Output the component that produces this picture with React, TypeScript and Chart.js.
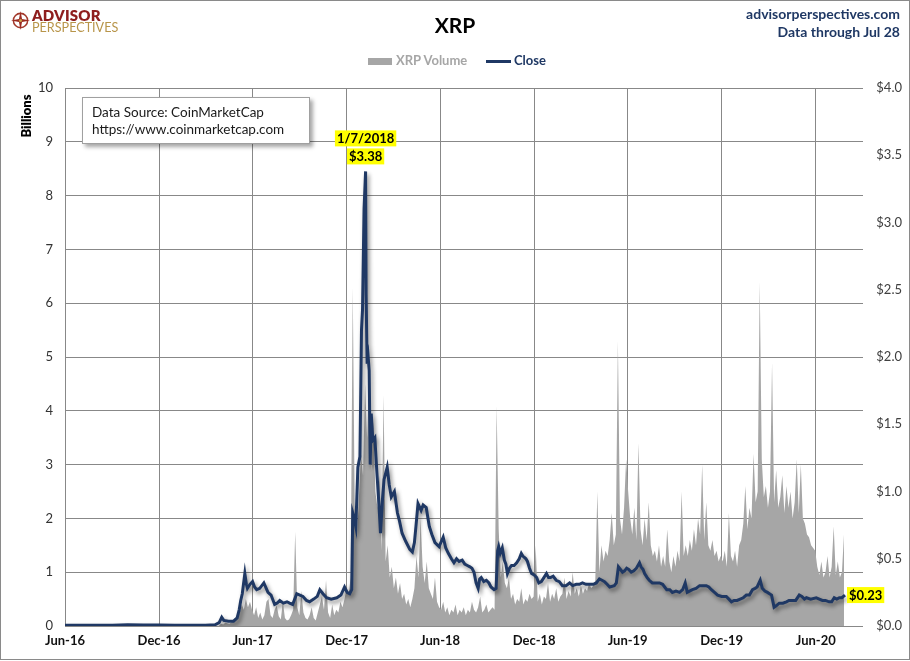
import React, { useEffect, useRef } from 'react';
import { Chart, registerables } from 'chart.js';

Chart.register(...registerables);

// ---------- axis ----------
const axisStartDate = '2016-06-01';
const axisEndDate = '2020-09-01';
const xTickDates = ['2016-06-01', '2016-12-01', '2017-06-01', '2017-12-01', '2018-06-01', '2018-12-01', '2019-06-01', '2019-12-01', '2020-06-01'];
const xTickLabels = ['Jun-16', 'Dec-16', 'Jun-17', 'Dec-17', 'Jun-18', 'Dec-18', 'Jun-19', 'Dec-19', 'Jun-20'];

// ---------- Close (USD, right axis) ----------
const closeDates = [
  '2016-06-01', '2016-07-01', '2016-08-01', '2016-09-01', '2016-10-01', '2016-11-01', '2016-12-01', '2017-01-01', '2017-02-01', '2017-03-01',
  '2017-03-20', '2017-03-28', '2017-04-02', '2017-04-06', '2017-04-15', '2017-04-25', '2017-05-02', '2017-05-06', '2017-05-09', '2017-05-12',
  '2017-05-14', '2017-05-17', '2017-05-20', '2017-05-22', '2017-05-27', '2017-06-01', '2017-06-05', '2017-06-09', '2017-06-15', '2017-06-23',
  '2017-07-01', '2017-07-07', '2017-07-14', '2017-07-19', '2017-07-24', '2017-07-31', '2017-08-07', '2017-08-12', '2017-08-18', '2017-08-26',
  '2017-09-01', '2017-09-07', '2017-09-14', '2017-09-20', '2017-09-28', '2017-10-05', '2017-10-10', '2017-10-16', '2017-10-23', '2017-11-01',
  '2017-11-12', '2017-11-20', '2017-11-27', '2017-12-02', '2017-12-07', '2017-12-11', '2017-12-13', '2017-12-16', '2017-12-19', '2017-12-23',
  '2017-12-27', '2017-12-30', '2018-01-01', '2018-01-04', '2018-01-07', '2018-01-08', '2018-01-10', '2018-01-12', '2018-01-14', '2018-01-16',
  '2018-01-18', '2018-01-21', '2018-01-25', '2018-01-29', '2018-02-02', '2018-02-05', '2018-02-09', '2018-02-12', '2018-02-18', '2018-02-22',
  '2018-02-26', '2018-03-04', '2018-03-10', '2018-03-14', '2018-03-19', '2018-03-26', '2018-04-03', '2018-04-08', '2018-04-12', '2018-04-15',
  '2018-04-19', '2018-04-25', '2018-04-29', '2018-05-05', '2018-05-11', '2018-05-16', '2018-05-22', '2018-05-30', '2018-06-07', '2018-06-12',
  '2018-06-17', '2018-06-23', '2018-06-28', '2018-07-03', '2018-07-08', '2018-07-14', '2018-07-19', '2018-07-24', '2018-07-29', '2018-08-02',
  '2018-08-06', '2018-08-10', '2018-08-14', '2018-08-17', '2018-08-20', '2018-08-25', '2018-08-30', '2018-09-04', '2018-09-08', '2018-09-14',
  '2018-09-18', '2018-09-21', '2018-09-23', '2018-09-26', '2018-09-30', '2018-10-04', '2018-10-07', '2018-10-10', '2018-10-14', '2018-10-18',
  '2018-10-23', '2018-10-28', '2018-11-02', '2018-11-06', '2018-11-09', '2018-11-12', '2018-11-15', '2018-11-18', '2018-11-22', '2018-11-26',
  '2018-12-01', '2018-12-06', '2018-12-10', '2018-12-15', '2018-12-20', '2018-12-25', '2018-12-29', '2019-01-02', '2019-01-07', '2019-01-13',
  '2019-01-19', '2019-01-25', '2019-02-01', '2019-02-08', '2019-02-14', '2019-02-21', '2019-02-27', '2019-03-05', '2019-03-12', '2019-03-19',
  '2019-03-26', '2019-04-01', '2019-04-07', '2019-04-12', '2019-04-17', '2019-04-22', '2019-04-27', '2019-05-06', '2019-05-10', '2019-05-14',
  '2019-05-18', '2019-05-22', '2019-05-26', '2019-05-30', '2019-06-03', '2019-06-08', '2019-06-13', '2019-06-18', '2019-06-24', '2019-06-27',
  '2019-07-01', '2019-07-04', '2019-07-09', '2019-07-13', '2019-07-19', '2019-07-25', '2019-08-02', '2019-08-08', '2019-08-16', '2019-08-22',
  '2019-08-27', '2019-09-03', '2019-09-10', '2019-09-16', '2019-09-21', '2019-09-25', '2019-10-05', '2019-10-12', '2019-10-19', '2019-10-26',
  '2019-11-01', '2019-11-06', '2019-11-11', '2019-11-17', '2019-11-23', '2019-12-01', '2019-12-10', '2019-12-15', '2019-12-20', '2019-12-25',
  '2019-12-31', '2020-01-06', '2020-01-12', '2020-01-18', '2020-01-24', '2020-01-30', '2020-02-04', '2020-02-08', '2020-02-14', '2020-02-18',
  '2020-02-23', '2020-02-28', '2020-03-03', '2020-03-07', '2020-03-12', '2020-03-16', '2020-03-22', '2020-03-29', '2020-04-05', '2020-04-10',
  '2020-04-16', '2020-04-23', '2020-04-30', '2020-05-05', '2020-05-10', '2020-05-14', '2020-05-22', '2020-06-02', '2020-06-08', '2020-06-14',
  '2020-06-20', '2020-06-27', '2020-07-02', '2020-07-07', '2020-07-12', '2020-07-17', '2020-07-22', '2020-07-25', '2020-07-28',
];
const closeValues = [
  0.006, 0.0065, 0.0062, 0.0064, 0.0095, 0.0078, 0.0067, 0.0064, 0.0062, 0.0064,
  0.009, 0.025, 0.065, 0.042, 0.035, 0.036, 0.06, 0.12, 0.19, 0.24,
  0.3, 0.39, 0.31, 0.28, 0.31, 0.33, 0.29, 0.27, 0.28, 0.32,
  0.25, 0.23, 0.16, 0.17, 0.19, 0.17, 0.18, 0.17, 0.16, 0.24,
  0.23, 0.22, 0.19, 0.18, 0.2, 0.22, 0.27, 0.24, 0.21, 0.2,
  0.21, 0.23, 0.29, 0.25, 0.24, 0.27, 0.84, 0.8, 0.74, 1.18,
  1.26, 2.2, 2.35, 3.1, 3.38, 2.46, 1.95, 2.0, 1.9, 1.2,
  1.58, 1.38, 1.4, 1.14, 0.9, 0.69, 0.95, 1.09, 1.18, 1.05,
  0.96, 1.0, 0.84, 0.78, 0.69, 0.63, 0.57, 0.55, 0.62, 0.74,
  0.91, 0.86, 0.9, 0.88, 0.74, 0.68, 0.62, 0.59, 0.66, 0.58,
  0.54, 0.5, 0.47, 0.5, 0.48, 0.49, 0.46, 0.45, 0.44, 0.43,
  0.4, 0.32, 0.28, 0.35, 0.36, 0.33, 0.34, 0.32, 0.29, 0.27,
  0.28, 0.56, 0.59, 0.54, 0.58, 0.49, 0.46, 0.39, 0.43, 0.45,
  0.45, 0.47, 0.5, 0.54, 0.52, 0.51, 0.5, 0.48, 0.43, 0.39,
  0.38, 0.36, 0.32, 0.33, 0.36, 0.39, 0.36, 0.36, 0.37, 0.34,
  0.33, 0.3, 0.3, 0.32, 0.3, 0.31, 0.31, 0.32, 0.31, 0.31,
  0.31, 0.32, 0.35, 0.34, 0.33, 0.31, 0.29, 0.3, 0.32, 0.44,
  0.42, 0.4, 0.41, 0.43, 0.42, 0.4, 0.41, 0.43, 0.47, 0.44,
  0.42, 0.39, 0.36, 0.34, 0.32, 0.32, 0.32, 0.31, 0.27, 0.27,
  0.25, 0.26, 0.25, 0.27, 0.32, 0.25, 0.27, 0.28, 0.3, 0.3,
  0.3, 0.29, 0.27, 0.25, 0.23, 0.22, 0.22, 0.2, 0.18, 0.19,
  0.19, 0.2, 0.21, 0.23, 0.23, 0.27, 0.28, 0.29, 0.34, 0.28,
  0.26, 0.25, 0.24, 0.23, 0.14, 0.15, 0.17, 0.17, 0.18, 0.19,
  0.19, 0.19, 0.23, 0.22, 0.2, 0.21, 0.2, 0.21, 0.2, 0.19,
  0.19, 0.18, 0.18, 0.21, 0.2, 0.21, 0.21, 0.22, 0.23,
];

// ---------- XRP Volume (billions, left axis), sampled every 4 days ----------
const volumeStartDate = '2017-03-28';
const volumeStepDays = 4;
const volumeValues = [
  // Mar-May 2017
  0.02, 0.04, 0.03, 0.06, 0.05, 0.04, 0.07, 0.08, 0.12, 0.15, 0.25, 0.4, 0.3, 0.5, 0.35, 0.45,
  // Jun-Nov 2017
  0.3, 0.2, 0.35, 0.15, 0.25, 0.12, 0.2, 0.45, 0.5, 0.2,
  0.15, 0.3, 0.38, 0.18, 0.12, 0.45, 0.15, 0.1, 0.12, 0.2,
  0.3, 1.75, 0.35, 0.2, 0.65, 0.25, 0.15, 0.12, 0.2, 0.35,
  0.15, 0.1, 0.25, 0.4, 0.55, 0.3, 0.85, 0.25, 0.15, 0.4,
  0.2, 0.3, 0.25, 0.45, 0.35, 0.5, 0.7,
  // Dec 2017-May 2018
  0.6, 0.9, 6.3, 2.0, 1.6, 2.4, 3.2, 2.8, 4.5, 3.5,
  4.8, 2.9, 3.8, 2.5, 2.2, 2.8, 1.4, 4.3, 1.2, 1.5,
  0.9, 1.1, 0.7, 0.9, 0.6, 0.8, 0.5, 0.6, 0.4, 0.5,
  0.35, 0.5, 0.7, 1.3, 0.9, 2.0, 1.1, 0.8, 1.2, 0.7,
  0.6, 0.5, 0.9, 0.45, 0.35,
  // Jun-Nov 2018
  0.3, 0.45, 0.25, 0.35, 0.2, 0.3, 0.25, 0.4, 0.2, 0.3,
  0.25, 0.35, 0.2, 0.3, 0.25, 0.45, 0.3, 0.25, 0.35, 0.55,
  0.25, 0.3, 0.4, 0.25, 0.3, 0.35, 0.3, 4.1, 1.8, 0.9,
  1.2, 0.8, 0.7, 0.9, 0.5, 0.6, 0.4, 0.5, 0.45, 0.7,
  0.4, 0.5, 0.45, 0.6, 0.5, 0.55,
  // Dec 2018-May 2019
  1.5, 0.45, 0.6, 0.4, 0.55, 0.5, 0.8, 0.45, 0.6, 0.5,
  0.7, 0.45, 0.55, 0.6, 0.9, 0.5, 0.65, 0.55, 1.0, 0.6,
  0.7, 0.55, 0.75, 0.6, 0.7, 0.65, 0.8, 0.7, 0.75, 0.85,
  2.5, 1.0, 1.5, 1.2, 1.4, 1.3, 1.6, 2.1, 1.5, 1.7,
  5.3, 2.0, 1.7, 2.2, 3.1,
  // Jun-Nov 2019
  2.5, 2.0, 1.7, 2.2, 1.6, 3.4, 1.8, 1.5, 2.0, 1.6,
  2.3, 1.5, 1.3, 1.4, 1.2, 1.5, 1.1, 1.3, 1.1, 1.8,
  1.2, 1.0, 1.3, 1.1, 1.4, 1.2, 2.5, 1.3, 1.5, 1.3,
  1.6, 1.4, 1.8, 1.5, 2.0, 1.7, 3.0, 1.6, 2.3, 1.5,
  1.4, 1.6, 1.3, 1.4, 1.2, 1.3,
  // Dec 2019-May 2020
  1.2, 1.4, 1.1, 2.1, 1.3, 1.2, 1.4, 1.1, 1.5, 1.6,
  1.9, 2.6, 1.8, 2.2, 2.0, 3.2, 2.3, 2.5, 6.4, 3.1,
  2.4, 2.6, 2.2, 2.5, 4.9, 2.3, 2.9, 2.2, 2.4, 2.8,
  2.1, 2.6, 2.2, 2.5, 2.0, 2.3, 3.1, 2.1, 3.0, 2.0,
  1.9, 1.7, 1.65, 1.5, 1.45, 1.4,
  // Jun-Jul 2020
  1.1, 0.95, 1.2, 0.9, 1.0, 1.3, 0.9, 1.1, 1.85, 0.95, 1.2, 0.9, 1.0, 1.7,
];

// ---------- annotations ----------
const peakDate = '2018-01-07';
const peakValue = 3.38;
const peakDateLabel = '1/7/2018';
const peakPriceLabel = '$3.38';
const lastPriceLabel = '$0.23';

const FONT = 'Lato, "Open Sans", sans-serif';

function dayIndex(s: string): number {
  const [y, m, d] = s.split('-').map(Number);
  const [y0, m0, d0] = axisStartDate.split('-').map(Number);
  return (Date.UTC(y, m - 1, d) - Date.UTC(y0, m0 - 1, d0)) / 86400000;
}

function drawTag(ctx: CanvasRenderingContext2D, text: string, x: number, y: number, align: 'center' | 'left') {
  ctx.save();
  ctx.font = `bold 13px ${FONT}`;
  const w = ctx.measureText(text).width;
  const left = align === 'center' ? x - w / 2 : x;
  ctx.fillStyle = '#ffff00';
  ctx.fillRect(left - 2, y - 8, w + 4, 16);
  ctx.fillStyle = '#000000';
  ctx.textAlign = 'left';
  ctx.textBaseline = 'middle';
  ctx.fillText(text, left, y + 0.5);
  ctx.restore();
}

const shadowPlugin = {
  id: 'closeShadow',
  beforeDatasetDraw(chart: any, args: any) {
    if (args.index !== 0) return;
    const ctx = chart.ctx;
    ctx.save();
    ctx.shadowColor = 'rgba(0,0,0,0.45)';
    ctx.shadowBlur = 4;
    ctx.shadowOffsetX = 2;
    ctx.shadowOffsetY = 3;
  },
  afterDatasetDraw(chart: any, args: any) {
    if (args.index !== 0) return;
    chart.ctx.restore();
  },
};

const labelPlugin = {
  id: 'priceLabels',
  afterDatasetsDraw(chart: any) {
    const ctx = chart.ctx;
    const xs = chart.scales.x;
    const ys = chart.scales.y1;
    const px = xs.getPixelForValue(dayIndex(peakDate));
    const py = ys.getPixelForValue(peakValue);
    drawTag(ctx, peakDateLabel, px, py - 33, 'center');
    drawTag(ctx, peakPriceLabel, px, py - 15, 'center');
    const lastDate = closeDates[closeDates.length - 1];
    const lastVal = closeValues[closeValues.length - 1];
    const lx = xs.getPixelForValue(dayIndex(lastDate));
    const ly = ys.getPixelForValue(lastVal);
    drawTag(ctx, lastPriceLabel, lx + 4, ly, 'left');
  },
};

export default function App() {
  const ref = useRef<HTMLCanvasElement>(null);

  useEffect(() => {
    const closeData = closeDates.map((d, i) => ({ x: dayIndex(d), y: closeValues[i] }));
    const volStart = dayIndex(volumeStartDate);
    const volumeData = volumeValues.map((v, i) => ({ x: volStart + i * volumeStepDays, y: v }));

    const chart = new Chart(ref.current as HTMLCanvasElement, {
      type: 'line',
      data: {
        datasets: [
          {
            label: 'Close',
            data: closeData,
            borderColor: '#1f3864',
            borderWidth: 3,
            pointRadius: 0,
            fill: false,
            tension: 0,
            yAxisID: 'y1',
            xAxisID: 'x',
          },
          {
            label: 'XRP Volume',
            data: volumeData,
            borderColor: 'rgba(0,0,0,0)',
            borderWidth: 0,
            backgroundColor: '#a6a6a6',
            fill: 'origin',
            pointRadius: 0,
            tension: 0,
            yAxisID: 'y',
            xAxisID: 'x',
          },
        ],
      },
      options: {
        responsive: false,
        maintainAspectRatio: false,
        animation: false,
        events: [],
        layout: { padding: { left: 0, right: 8, top: 88, bottom: 5 } },
        plugins: {
          legend: { display: false },
          tooltip: { enabled: false },
          title: { display: false },
        },
        scales: {
          x: {
            type: 'linear',
            min: 0,
            max: dayIndex(axisEndDate),
            afterBuildTicks: (s: any) => {
              s.ticks = xTickDates.map((d) => ({ value: dayIndex(d) }));
            },
            afterFit: (s: any) => {
              s.height = 30;
            },
            ticks: {
              autoSkip: false,
              maxRotation: 0,
              padding: 7,
              color: '#111111',
              font: { family: FONT, size: 13, weight: 'bold' },
              callback: (_v: any, i: number) => xTickLabels[i],
            },
            grid: { color: '#888888', lineWidth: 1, drawTicks: false },
            border: { display: false },
          },
          y: {
            position: 'left',
            min: 0,
            max: 10,
            afterFit: (s: any) => {
              s.width = 65;
            },
            ticks: {
              stepSize: 1,
              padding: 12,
              color: '#333333',
              font: { family: FONT, size: 13 },
            },
            grid: { color: '#888888', lineWidth: 1, drawTicks: false },
            border: { display: false },
          },
          y1: {
            position: 'right',
            min: 0,
            max: 4,
            afterFit: (s: any) => {
              s.width = 39;
            },
            ticks: {
              stepSize: 0.5,
              crossAlign: 'far',
              padding: 8,
              color: '#404040',
              font: { family: FONT, size: 13 },
              callback: (v: any) => '$' + Number(v).toFixed(1),
            },
            grid: { display: false, drawTicks: false },
            border: { display: false },
          },
        },
      } as any,
      plugins: [shadowPlugin, labelPlugin],
    });
    return () => chart.destroy();
  }, []);

  const abs = (o: React.CSSProperties): React.CSSProperties => ({ position: 'absolute', whiteSpace: 'nowrap', ...o });

  return (
    <div style={{ position: 'absolute', left: 0, top: 0, width: 910, height: 661, background: '#ffffff', overflow: 'hidden', fontFamily: FONT }}>
      <canvas ref={ref} width={910} height={661} style={{ position: 'absolute', left: 0, top: 0, width: 910, height: 661 }} />

      {/* logo */}
      <svg style={{ position: 'absolute', left: 11, top: 11 }} width={19} height={19} viewBox="0 0 20 20">
        <circle cx={10} cy={10} r={7.5} fill="none" stroke="#a33a2c" strokeWidth={1.6} />
        <path d="M10 0 L11.6 8.4 L20 10 L11.6 11.6 L10 20 L8.4 11.6 L0 10 L8.4 8.4 Z" fill="#9b2a22" />
        <circle cx={10} cy={10} r={1.6} fill="#c9a24a" />
      </svg>
      <div style={abs({ left: 32, top: 8, fontSize: 15, lineHeight: '15px', fontWeight: 800, color: '#8e1d1d', letterSpacing: 0.2 })}>ADVISOR</div>
      <div style={abs({ left: 32, top: 20, fontSize: 14, lineHeight: '14px', fontWeight: 400, color: '#b8954a', transform: 'scaleX(0.9)', transformOrigin: 'left center' })}>PERSPECTIVES</div>

      {/* title */}
      <div style={abs({ left: 455, top: 14, transform: 'translateX(-50%)', fontSize: 21, lineHeight: '21px', fontWeight: 700, color: '#000' })}>XRP</div>

      {/* top-right */}
      <div style={abs({ right: 10, top: 7, fontSize: 14, lineHeight: '14px', fontWeight: 700, color: '#1f3864', textAlign: 'right' })}>advisorperspectives.com</div>
      <div style={abs({ right: 10, top: 25, fontSize: 14, lineHeight: '14px', fontWeight: 700, color: '#1f3864', textAlign: 'right' })}>Data through Jul 28</div>

      {/* legend */}
      <div style={abs({ left: 368, top: 58, width: 24, height: 7, background: '#a6a6a6' })} />
      <div style={abs({ left: 396, top: 54, fontSize: 13, lineHeight: '13px', fontWeight: 700, color: '#a6a6a6' })}>XRP Volume</div>
      <div style={abs({ left: 486, top: 60, width: 25, height: 3, background: '#1f3864' })} />
      <div style={abs({ left: 514, top: 54, fontSize: 13, lineHeight: '13px', fontWeight: 700, color: '#1f3864' })}>Close</div>

      {/* left axis title */}
      <div style={abs({ left: 26, top: 116, transform: 'translate(-50%,-50%) rotate(-90deg)', fontSize: 13, lineHeight: '13px', fontWeight: 800, color: '#000' })}>Billions</div>

      {/* source box */}
      <div
        style={{
          position: 'absolute',
          left: 82,
          top: 97,
          width: 228,
          height: 47,
          boxSizing: 'border-box',
          border: '1px solid #a0a0a0',
          background: '#ffffff',
          boxShadow: '3px 3px 4px rgba(0,0,0,0.35)',
          padding: '6px 0 0 9px',
          fontSize: 13.5,
          lineHeight: '17px',
          color: '#1a1a1a',
          whiteSpace: 'nowrap',
        }}
      >
        <div>Data Source: CoinMarketCap</div>
        <div>https://www.coinmarketcap.com</div>
      </div>

      {/* outer border */}
      <div style={{ position: 'absolute', left: 0, top: 0, width: 910, height: 660, boxSizing: 'border-box', border: '1px solid #8a8a8a', pointerEvents: 'none' }} />
    </div>
  );
}
